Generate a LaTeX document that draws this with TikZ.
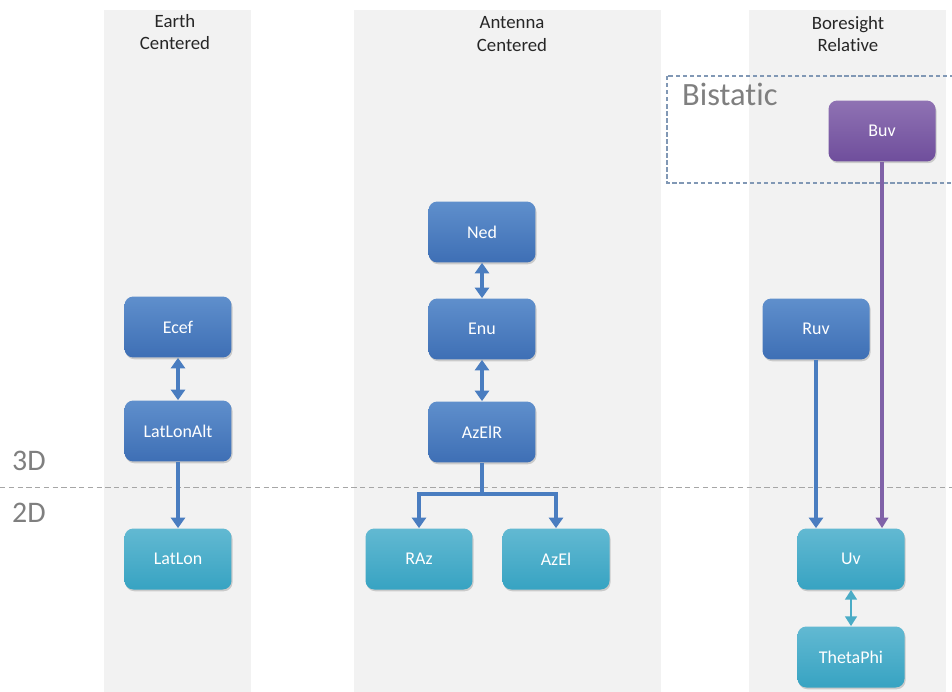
\documentclass[tikz,border=0pt]{standalone}
\usepackage{fontspec}
\setmainfont{Carlito}[RawFeature=-liga]
\usetikzlibrary{arrows.meta,shadows}
\definecolor{bandgr}{HTML}{F2F2F2}
\definecolor{blutop}{HTML}{5F8FCC}
\definecolor{blubot}{HTML}{3E6FB5}
\definecolor{cyatop}{HTML}{62B9D2}
\definecolor{cyabot}{HTML}{37A3C2}
\definecolor{purtop}{HTML}{8F72B3}
\definecolor{purbot}{HTML}{6F4E9C}
\definecolor{arblu}{HTML}{4A7DC0}
\definecolor{arpur}{HTML}{8062A8}
\definecolor{arcya}{HTML}{4AACC6}
\definecolor{dimtx}{HTML}{7F7F7F}
\tikzset{%
    band/.style={fill=bandgr, draw=none},
    hdr/.style={align=center, text=black!85, font=\fontsize{10.7}{13}\selectfont},
    dimt/.style={text=dimtx, font=\fontsize{17}{20}\selectfont},
    box/.style={rectangle, rounded corners=5pt, minimum width=2.14cm, minimum height=1.22cm,
        text=white, font=\fontsize{10.2}{12}\selectfont,
        drop shadow={opacity=0.35, shadow xshift=0.6pt, shadow yshift=-1pt}},
    blu/.style={box, top color=blutop, bottom color=blubot},
    cya/.style={box, top color=cyatop, bottom color=cyabot},
    pur/.style={box, top color=purtop, bottom color=purbot},
    bln/.style={line width=2.2pt, draw=arblu},
    bla/.style={line width=2.2pt, draw=arblu, -{Triangle[width=8pt,length=6pt]}},
    bdar/.style={line width=2.2pt, draw=arblu, {Triangle[width=8pt,length=6pt]}-{Triangle[width=8pt,length=6pt]}},
    pua/.style={line width=1.8pt, draw=arpur, -{Triangle[width=7pt,length=6pt]}},
    cdar/.style={line width=1.4pt, draw=arcya, {Triangle[width=6.5pt,length=5.5pt]}-{Triangle[width=6.5pt,length=5.5pt]}},
    sep/.style={line width=0.5pt, draw=black!35, dash pattern=on 3pt off 2pt},
    bist/.style={line width=0.7pt, draw=arblu!55!gray!80, dash pattern=on 2.5pt off 1.5pt},
}

\begin{document}
\begin{tikzpicture}[x=0.02cm, y=-0.02cm]
    \useasboundingbox (0,0) rectangle (952,692);
    % columns
    \fill[band] (104,10) rectangle (251,692);
    \fill[band] (354,10) rectangle (661,692);
    \fill[band] (749,10) rectangle (946,692);
    \node[hdr] (hearth) at (175,32) {Earth\\Centered};
    \node[hdr] (hant) at (512,34) {Antenna\\Centered};
    \node[hdr] (hbore) at (848,34) {Boresight\\Relative};
    % 3D / 2D split
    \coordinate (sepl) at (0,487);
    \coordinate (sepr) at (952,487);
    \draw[sep] (sepl) -- (sepr);
    \node[dimt] (t3d) at (29,461) {3D};
    \node[dimt] (t2d) at (29,513) {2D};
    % bistatic area
    \coordinate (bisa) at (667,76);
    \coordinate (bisb) at (960,183);
    \draw[bist] (bisa) rectangle (bisb);
    \node[dimt, font=\fontsize{18.5}{21}\selectfont, anchor=west] (tbis) at (676,94) {Bistatic};
    % earth centered
    \node[blu] (ecef) at (178,327) {Ecef};
    \node[blu] (lla) at (178,431) {LatLonAlt};
    \node[cya] (ll) at (178,559) {LatLon};
    % antenna centered
    \node[blu] (ned) at (482,232) {Ned};
    \node[blu] (enu) at (482,329) {Enu};
    \node[blu] (aer) at (482,432) {AzElR};
    \node[cya] (raz) at (419,559) {RAz};
    \node[cya] (azel) at (556,559) {AzEl};
    % boresight relative
    \node[pur] (buv) at (882,131) {Buv};
    \node[blu] (ruv) at (816,329) {Ruv};
    \node[cya] (uv) at (851,559) {Uv};
    \node[cya] (thph) at (851,657) {ThetaPhi};
    % connectors
    \draw[bdar] (ecef) -- (lla);
    \draw[bla] (lla) -- (ll);
    \draw[bdar] (ned) -- (enu);
    \draw[bdar] (enu) -- (aer);
    \coordinate (fork) at (482,494);
    \draw[bln] (aer) -- (fork);
    \draw[bla] (fork) -| (raz);
    \draw[bla] (fork) -| (azel);
    \draw[bla] (ruv.south) -- (ruv.south |- uv.north);
    \draw[pua] (buv.south) -- (buv.south |- uv.north);
    \draw[cdar] (uv) -- (thph);
\end{tikzpicture}
\end{document}
